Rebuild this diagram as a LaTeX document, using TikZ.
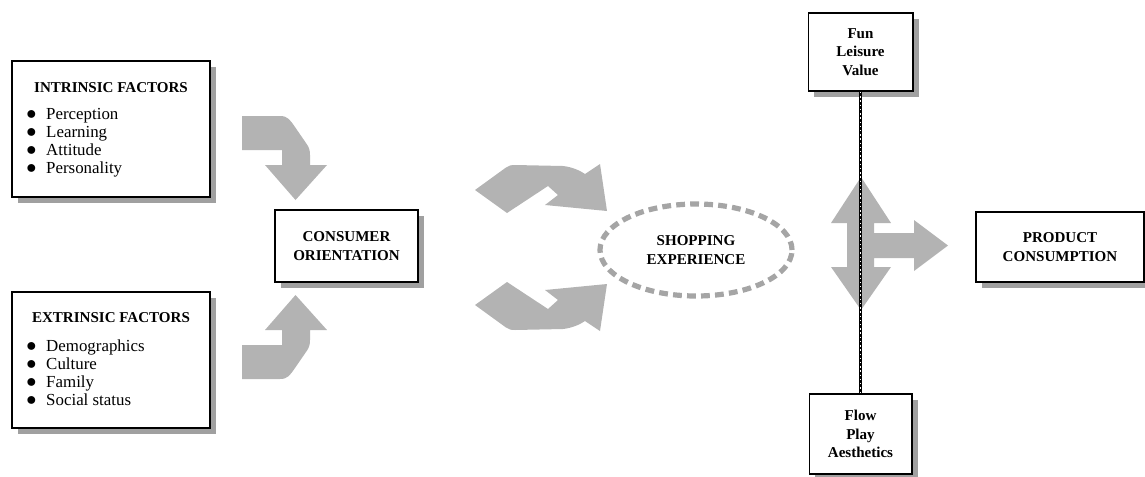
\documentclass[tikz,border=0pt]{standalone}
\usepackage{fontspec}
\setmainfont{Liberation Serif}
\usetikzlibrary{shapes.geometric,shadows}
\definecolor{arrowgray}{RGB}{179,179,179}
\definecolor{dashgray}{RGB}{165,165,165}
\definecolor{shadowgray}{RGB}{160,160,160}
\newcommand{\itemdot}{{\fontsize{15}{12.8}\selectfont$\bullet$}\hspace{7pt}}

\begin{document}
\begin{tikzpicture}[
  x=0.025cm, y=-0.025cm,
  box/.style={
    draw, line width=1.4pt, fill=white, inner sep=0pt,
    drop shadow={shadow xshift=0.15cm, shadow yshift=-0.15cm,
      fill=shadowgray, opacity=1},
  },
  head/.style={font=\fontsize{10.7}{13.1}\selectfont\bfseries,
    align=center, inner sep=0pt},
  items/.style={font=\fontsize{12}{12.8}\selectfont,
    align=left, inner sep=0pt, anchor=west},
  bigarrow/.style={fill=arrowgray},
  inarrow/.pic={
    \fill[bigarrow] (242,-131.5) -- (280,-131.5)
      .. controls (288,-131.5) and (290,-127.5) .. (295,-120.5)
      -- (306,-104.5) .. controls (309,-100.5) and (310,-97.5) .. (310,-92.5)
      -- (310,-82.5) -- (327,-82.5) -- (295.5,-47.5) -- (265,-82.5)
      -- (282,-82.5) -- (282,-97.5) -- (242,-97.5) -- cycle;
  },
  midarrow/.pic={
    \fill[bigarrow] (475,-57.5) -- (506,-80) .. controls (509,-82) and (511,-82.5) .. (515,-82.5)
      -- (563,-81.5) .. controls (572,-80.5) and (580,-77) .. (585,-73.5)
      -- (600,-83.5) -- (607,-36.5) -- (545,-42.5) -- (558,-52.5)
      -- (548,-61.5) -- (507,-34.5) -- cycle;
  },
  ]
  \useasboundingbox (0,0) rectangle (1145,476);

  % factor boxes
  \node[box, minimum width=4.95cm, minimum height=3.4cm] (intr) at (111,129) {};
  \node[head] (intrhead) at (111,88) {INTRINSIC FACTORS};
  \node[items] (intrlist) at (26,143)
    {\itemdot Perception\\ \itemdot Learning\\
     \itemdot Attitude\\ \itemdot Personality};

  \node[box, minimum width=4.95cm, minimum height=3.4cm] (extr) at (111,360) {};
  \node[head] (extrhead) at (111,318) {EXTRINSIC FACTORS};
  \node[items] (extrlist) at (26,373)
    {\itemdot Demographics\\ \itemdot Culture\\
     \itemdot Family\\ \itemdot Social status};

  \node[box, head, minimum width=3.575cm, minimum height=1.8cm] (cons)
    at (346.5,246) {CONSUMER\\ORIENTATION};

  \node[ellipse, head, draw=dashgray, line width=0.13cm,
    dash pattern=on 0.22cm off 0.13cm,
    minimum width=4.8cm, minimum height=2.3cm] (shop)
    at (696,250) {SHOPPING\\EXPERIENCE};

  \node[box, head, minimum width=2.6cm, minimum height=1.95cm] (fun)
    at (860.5,52) {Fun\\Leisure\\Value};
  \node[box, head, minimum width=2.55cm, minimum height=2cm] (flow)
    at (860.5,434) {Flow\\Play\\Aesthetics};

  \node[box, head, minimum width=4.2cm, minimum height=1.75cm] (prod)
    at (1060,247) {PRODUCT\\CONSUMPTION};

  % gray arrows
  \pic at (0,247.5) {inarrow};
  \pic[yscale=-1] at (0,247.5) {inarrow};
  \pic at (0,247.5) {midarrow};
  \pic[yscale=-1] at (0,247.5) {midarrow};

  \fill[bigarrow] (861,177) -- (891,223) -- (874,223) -- (874,233)
    -- (914,233) -- (914,220) -- (948,245.5) -- (914,271) -- (914,258)
    -- (874,258) -- (874,267) -- (891,267) -- (861,310) -- (831,267)
    -- (847,267) -- (847,223) -- (831,223) -- cycle;

  \draw[line width=1.5pt] (fun.south) -- (flow.north);
  \draw[white, line width=0.4pt, dash pattern=on 1pt off 2pt]
    (fun.south) -- (flow.north);
\end{tikzpicture}
\end{document}
